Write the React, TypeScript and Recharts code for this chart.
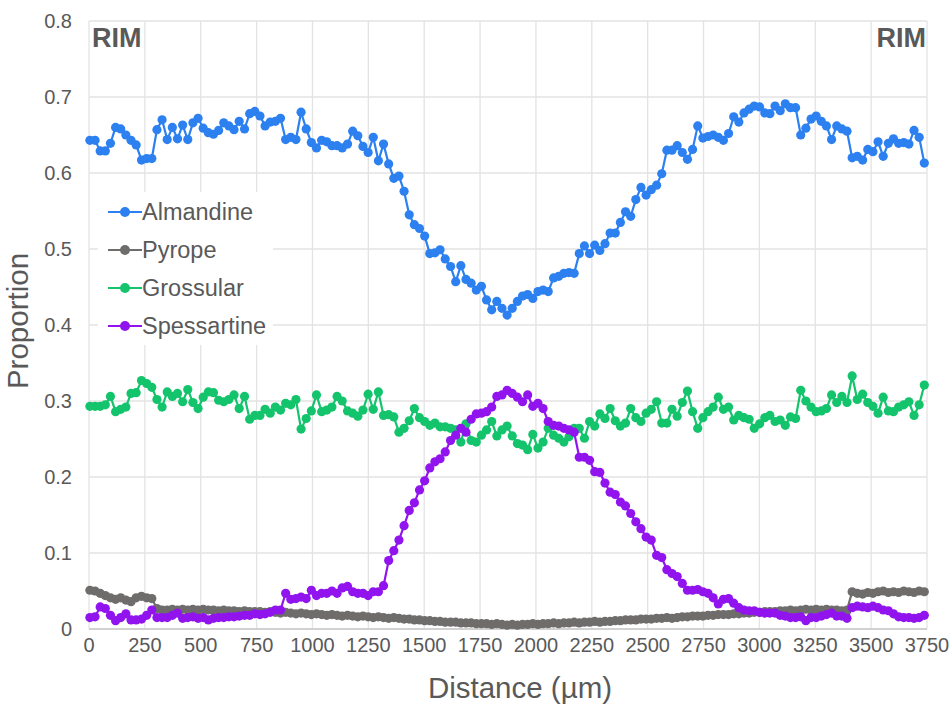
import React from 'react';
import { LineChart, Line, XAxis, YAxis, CartesianGrid } from 'recharts';

// Measured proportions along the traverse (one value per analysis point)
const almandine = [
  0.643, 0.643, 0.629, 0.629, 0.639, 0.660, 0.658, 0.650, 0.643, 0.637, 0.617, 0.619, 0.619, 0.657, 0.670, 0.644, 0.660, 0.645, 0.663, 0.644, 0.666, 0.672, 0.659, 0.653, 0.651, 0.656, 0.666, 0.662, 0.657, 0.668, 0.658, 0.678, 0.681,
  0.675, 0.662, 0.667, 0.668, 0.672, 0.644, 0.647, 0.644, 0.680, 0.658, 0.640, 0.633, 0.643, 0.641, 0.636, 0.636, 0.633, 0.638, 0.655, 0.649, 0.635, 0.627, 0.647, 0.616, 0.638, 0.612, 0.593, 0.596, 0.576, 0.545, 0.532, 0.527, 0.517, 0.494,
  0.495, 0.499, 0.487, 0.477, 0.457, 0.478, 0.460, 0.455, 0.446, 0.451, 0.433, 0.420, 0.431, 0.422, 0.413, 0.422, 0.431, 0.438, 0.440, 0.435, 0.444, 0.446, 0.444, 0.462, 0.464, 0.468, 0.469, 0.468, 0.494, 0.504, 0.494, 0.505, 0.498,
  0.507, 0.521, 0.521, 0.535, 0.549, 0.543, 0.565, 0.581, 0.571, 0.578, 0.584, 0.599, 0.630, 0.630, 0.636, 0.627, 0.618, 0.631, 0.662, 0.646, 0.648, 0.650, 0.647, 0.643, 0.652, 0.674, 0.667, 0.679, 0.684, 0.688, 0.687, 0.679, 0.678,
  0.688, 0.682, 0.691, 0.686, 0.686, 0.650, 0.659, 0.671, 0.675, 0.668, 0.662, 0.644, 0.662, 0.658, 0.655, 0.620, 0.622, 0.617, 0.631, 0.628, 0.641, 0.622, 0.639, 0.645, 0.639, 0.640, 0.638, 0.656, 0.647, 0.613,
];

const pyrope = [
  0.051, 0.050, 0.047, 0.044, 0.041, 0.039, 0.041, 0.038, 0.036, 0.041, 0.043, 0.041, 0.040, 0.027, 0.025, 0.025, 0.026, 0.025, 0.026, 0.025, 0.026, 0.025, 0.026, 0.025, 0.025, 0.024, 0.025, 0.024, 0.024, 0.023, 0.024, 0.023, 0.023,
  0.023, 0.022, 0.023, 0.022, 0.021, 0.022, 0.021, 0.020, 0.021, 0.020, 0.019, 0.020, 0.019, 0.018, 0.019, 0.018, 0.017, 0.018, 0.017, 0.016, 0.017, 0.016, 0.015, 0.016, 0.015, 0.014, 0.015, 0.014, 0.013, 0.013, 0.012, 0.012, 0.011, 0.011,
  0.010, 0.010, 0.009, 0.009, 0.009, 0.008, 0.008, 0.008, 0.007, 0.007, 0.007, 0.006, 0.007, 0.006, 0.005, 0.006, 0.005, 0.006, 0.006, 0.007, 0.006, 0.007, 0.007, 0.008, 0.007, 0.008, 0.008, 0.009, 0.008, 0.009, 0.009, 0.010, 0.009,
  0.010, 0.010, 0.011, 0.011, 0.012, 0.012, 0.012, 0.013, 0.013, 0.013, 0.014, 0.014, 0.015, 0.014, 0.015, 0.016, 0.016, 0.017, 0.017, 0.017, 0.018, 0.018, 0.019, 0.019, 0.019, 0.020, 0.020, 0.021, 0.021, 0.022, 0.022, 0.023, 0.023,
  0.023, 0.024, 0.024, 0.025, 0.024, 0.025, 0.026, 0.025, 0.026, 0.025, 0.026, 0.025, 0.025, 0.024, 0.025, 0.049, 0.047, 0.046, 0.048, 0.047, 0.049, 0.050, 0.048, 0.049, 0.048, 0.050, 0.049, 0.048, 0.050, 0.049,
];

const grossular = [
  0.293, 0.293, 0.293, 0.295, 0.306, 0.286, 0.289, 0.292, 0.310, 0.311, 0.327, 0.323, 0.318, 0.302, 0.292, 0.312, 0.306, 0.310, 0.299, 0.315, 0.298, 0.290, 0.305, 0.312, 0.311, 0.301, 0.299, 0.302, 0.308, 0.290, 0.306, 0.276, 0.281,
  0.281, 0.289, 0.284, 0.292, 0.288, 0.297, 0.295, 0.302, 0.263, 0.277, 0.287, 0.308, 0.286, 0.288, 0.292, 0.306, 0.300, 0.287, 0.284, 0.280, 0.288, 0.309, 0.289, 0.312, 0.281, 0.282, 0.279, 0.259, 0.264, 0.274, 0.290, 0.278, 0.273, 0.268,
  0.271, 0.266, 0.266, 0.264, 0.262, 0.246, 0.270, 0.248, 0.246, 0.255, 0.262, 0.273, 0.254, 0.262, 0.267, 0.254, 0.244, 0.242, 0.236, 0.256, 0.238, 0.246, 0.264, 0.255, 0.251, 0.246, 0.253, 0.264, 0.264, 0.251, 0.273, 0.267, 0.283,
  0.277, 0.290, 0.274, 0.267, 0.271, 0.290, 0.278, 0.273, 0.284, 0.289, 0.299, 0.271, 0.271, 0.289, 0.280, 0.298, 0.313, 0.286, 0.264, 0.278, 0.286, 0.292, 0.305, 0.289, 0.292, 0.275, 0.281, 0.278, 0.276, 0.264, 0.270, 0.278, 0.281,
  0.273, 0.275, 0.268, 0.279, 0.277, 0.314, 0.300, 0.292, 0.286, 0.287, 0.290, 0.308, 0.298, 0.306, 0.298, 0.333, 0.302, 0.309, 0.298, 0.293, 0.284, 0.305, 0.287, 0.286, 0.292, 0.295, 0.299, 0.281, 0.295, 0.321,
];

const spessartine = [
  0.015, 0.016, 0.029, 0.027, 0.018, 0.011, 0.015, 0.020, 0.012, 0.012, 0.013, 0.018, 0.025, 0.015, 0.015, 0.015, 0.018, 0.021, 0.014, 0.015, 0.016, 0.014, 0.015, 0.012, 0.014, 0.015, 0.015, 0.016, 0.016, 0.017, 0.018, 0.018, 0.020,
  0.019, 0.020, 0.022, 0.025, 0.025, 0.047, 0.039, 0.040, 0.042, 0.040, 0.051, 0.044, 0.047, 0.047, 0.050, 0.047, 0.054, 0.056, 0.049, 0.047, 0.047, 0.044, 0.049, 0.049, 0.057, 0.090, 0.103, 0.117, 0.136, 0.156, 0.166, 0.183, 0.195, 0.212,
  0.220, 0.224, 0.233, 0.248, 0.255, 0.264, 0.259, 0.276, 0.283, 0.284, 0.286, 0.292, 0.306, 0.308, 0.314, 0.310, 0.305, 0.299, 0.308, 0.293, 0.297, 0.290, 0.273, 0.268, 0.267, 0.264, 0.262, 0.259, 0.226, 0.226, 0.222, 0.207, 0.206,
  0.192, 0.180, 0.177, 0.167, 0.162, 0.152, 0.141, 0.132, 0.121, 0.117, 0.097, 0.094, 0.078, 0.073, 0.069, 0.060, 0.051, 0.051, 0.052, 0.049, 0.047, 0.041, 0.033, 0.039, 0.040, 0.034, 0.028, 0.025, 0.024, 0.024, 0.022, 0.021, 0.021,
  0.021, 0.018, 0.017, 0.015, 0.015, 0.016, 0.011, 0.015, 0.015, 0.017, 0.019, 0.021, 0.017, 0.017, 0.014, 0.028, 0.030, 0.029, 0.028, 0.030, 0.028, 0.025, 0.024, 0.020, 0.016, 0.015, 0.015, 0.014, 0.015, 0.018,
];

// Analysis points are evenly spaced along the traverse (µm)
const START_UM = 4;
const STEP_UM = 23.05;

const xTicks = [0, 250, 500, 750, 1000, 1250, 1500, 1750, 2000, 2250, 2500, 2750, 3000, 3250, 3500, 3750];
const yTicks = [0, 0.1, 0.2, 0.3, 0.4, 0.5, 0.6, 0.7, 0.8];
const yTickLabels = ['0', '0.1', '0.2', '0.3', '0.4', '0.5', '0.6', '0.7', '0.8'];

const seriesDefs = [
  { key: 'Almandine', color: '#2C80F0', values: almandine },
  { key: 'Pyrope', color: '#6F6C6C', values: pyrope },
  { key: 'Grossular', color: '#14C46C', values: grossular },
  { key: 'Spessartine', color: '#9114EE', values: spessartine },
];

const data = almandine.map((_, i) => {
  const row: Record<string, number> = { distance: Math.round(START_UM + i * STEP_UM) };
  seriesDefs.forEach((s) => {
    row[s.key] = s.values[i];
  });
  return row;
});

const FONT = '"Liberation Sans", Arial, sans-serif';
const TEXT = '#595959';

export default function App() {
  return (
    <div style={{ position: 'absolute', left: 0, top: 0, width: 949, height: 704, background: '#fff', fontFamily: FONT }}>
      <LineChart width={949} height={704} data={data} margin={{ top: 21, right: 22, left: 0, bottom: 0 }}>
        <CartesianGrid stroke="#E3E3E3" strokeWidth={1.3} vertical horizontal />
        <XAxis
          dataKey="distance"
          type="number"
          domain={[0, 3750]}
          ticks={xTicks}
          interval={0}
          height={75}
          axisLine={{ stroke: '#C9C9C9', strokeWidth: 1.5 }}
          tickLine={false}
          tick={{ fill: TEXT, fontSize: 20, fontFamily: FONT }}
          tickMargin={3}
        />
        <YAxis
          type="number"
          domain={[0, 0.8]}
          ticks={yTicks}
          interval={0}
          width={89}
          axisLine={false}
          tickLine={false}
          tickMargin={11}
          tickFormatter={(v: number) => yTickLabels[yTicks.indexOf(v)] ?? String(v)}
          tick={{ fill: TEXT, fontSize: 20, fontFamily: FONT }}
        />
        {seriesDefs.map((s) => (
          <Line
            key={s.key}
            type="linear"
            dataKey={s.key}
            stroke={s.color}
            strokeWidth={2.2}
            dot={{ r: 4.6, fill: s.color, stroke: s.color, strokeWidth: 0 }}
            activeDot={false}
            isAnimationActive={false}
          />
        ))}
      </LineChart>

      {/* Legend */}
      <div
        style={{
          position: 'absolute',
          left: 98,
          top: 192,
          width: 175,
          height: 153,
          background: '#fff',
        }}
      >
        {seriesDefs.map((s, i) => (
          <div
            key={s.key}
            style={{ position: 'absolute', left: 10, top: 20 - 14 + i * 38, height: 28, display: 'flex', alignItems: 'center' }}
          >
            <svg width={34} height={28} style={{ display: 'block' }}>
              <line x1={0} y1={14} x2={34} y2={14} stroke={s.color} strokeWidth={2.2} />
              <circle cx={17} cy={14} r={5} fill={s.color} />
            </svg>
            <span style={{ marginLeft: 0, fontSize: 23.5, color: TEXT, fontFamily: FONT, whiteSpace: 'nowrap' }}>{s.key}</span>
          </div>
        ))}
      </div>

      {/* RIM labels */}
      <div style={{ position: 'absolute', left: 92, top: 23, fontSize: 27, fontWeight: 'bold', color: TEXT, fontFamily: FONT }}>RIM</div>
      <div style={{ position: 'absolute', right: 23, top: 23, fontSize: 27, fontWeight: 'bold', color: TEXT, fontFamily: FONT }}>RIM</div>

      {/* Axis titles */}
      <div
        style={{
          position: 'absolute',
          left: 18,
          top: 321,
          transform: 'translate(-50%, -50%) rotate(-90deg)',
          fontSize: 29.5,
          color: TEXT,
          fontFamily: FONT,
          whiteSpace: 'nowrap',
        }}
      >
        Proportion
      </div>
      <div
        style={{
          position: 'absolute',
          left: 520,
          top: 688,
          transform: 'translate(-50%, -50%)',
          fontSize: 29.5,
          color: TEXT,
          fontFamily: FONT,
          whiteSpace: 'nowrap',
        }}
      >
        Distance (µm)
      </div>
    </div>
  );
}
